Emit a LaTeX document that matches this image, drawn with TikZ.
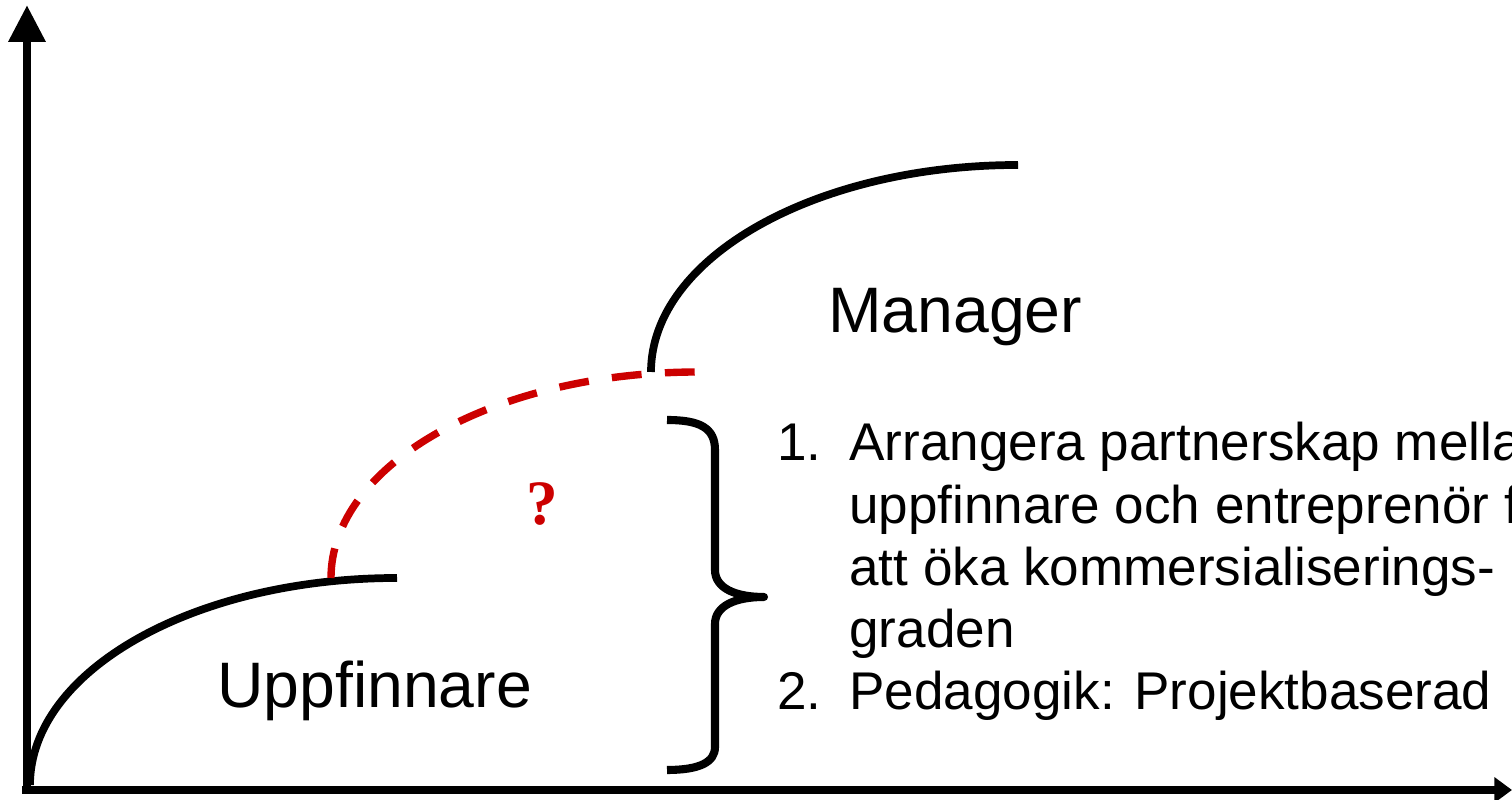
\documentclass[tikz,border=0pt]{standalone}
\usepackage{fontspec}
\setmainfont{Liberation Sans}
\newfontfamily\qfont{Liberation Serif}
\usetikzlibrary{arrows.meta}
\definecolor{gapred}{RGB}{204,0,0}

\begin{document}
\begin{tikzpicture}[
    x=0.02cm, y=0.02cm,
    axis/.style={line width=5pt},
    curve/.style={line width=4.4pt},
    gap/.style={gapred, line width=4.2pt, dash pattern=on 17pt off 13.3pt},
    stage/.style={font=\fontsize{36.6}{43}\selectfont, inner sep=0pt, anchor=base west},
    item/.style={font=\fontsize{30.2}{36}\selectfont, inner sep=0pt, anchor=base west}
  ]
  \useasboundingbox (0,0) rectangle (1512,800);
  \clip (0,0) rectangle (1512,800);

  % axes
  \coordinate (origin) at (27,6);
  \coordinate (ytop) at (27,795);
  \coordinate (xstart) at (22,10);
  \coordinate (xend) at (1512,10);
  \draw[axis, -{Triangle[length=21pt,width=20pt]}] (origin) -- (ytop);
  \draw[axis, -{Triangle[length=10pt,width=14pt]}] (xstart) -- (xend);

  % the two stages and the step between them
  \draw[curve] (30,15) arc[start angle=180, end angle=90, x radius=367, y radius=207];
  \draw[gap] (331,222) arc[start angle=180, end angle=90, x radius=367, y radius=206];
  \draw[curve] (651,428) arc[start angle=180, end angle=90, x radius=367, y radius=207];

  \node[stage] (manager) at (828,467) {Manager};
  \node[stage] (inventor) at (217,92) {Uppfinnare};
  \node[anchor=base, inner sep=0pt, text=gapred,
        font=\qfont\bfseries\fontsize{36}{43}\selectfont] (question) at (542,275) {?};

  % brace
  \draw[line width=4.6pt, line join=round]
    (667,380) .. controls (700,380) and (715,372) .. (715,350) -- (715,230)
    .. controls (715,212) and (735,203) .. (764,203)
    .. controls (735,203) and (715,194) .. (715,176) -- (715,53)
    .. controls (715,38) and (700,30) .. (667,30);

  % list
  \node[item] (num1) at (777,339) {1.};
  \node[item] (num2) at (777,90) {2.};
  \foreach \i/\y/\txt in {1/339/Arrangera partnerskap mellan,
                          2/276.75/uppfinnare och entreprenör för,
                          3/214.5/att öka kommersialiserings-,
                          4/152.25/graden,
                          5/90/Pedagogik: Projektbaserad}
    \node[item] (line\i) at (849,\y) {\txt};
\end{tikzpicture}
\end{document}
